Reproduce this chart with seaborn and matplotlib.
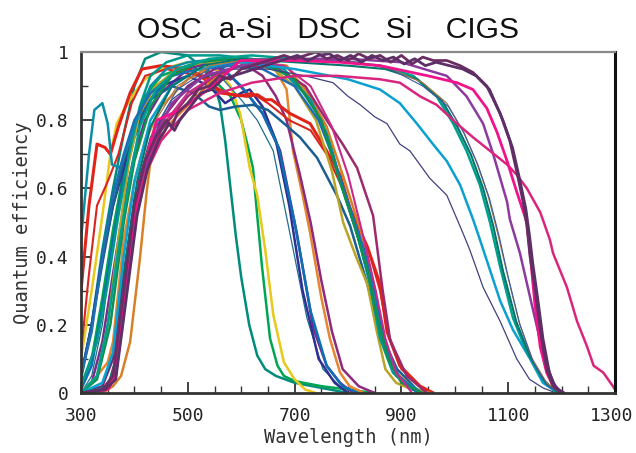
import matplotlib
matplotlib.use("Agg")
import matplotlib.pyplot as plt
import matplotlib.transforms as mtransforms
from matplotlib.ticker import MultipleLocator
import seaborn as sns
import pandas as pd

# ---------------- data: (wavelength nm, quantum efficiency) per curve ----------------
# Group A: OSC / a-Si type cells (cut-off 600-850 nm)
a_wl = [
    [300,320,340,360,380,400,420,450,500,530,550,560,570,580,590,600,615,630,645,665,700,750,800],
    [300,320,340,360,380,400,420,450,500,540,560,580,600,613,622,630,639,654,668,680,700,750,800,850],
    [300,320,340,355,367,380,400,420,450,500,540,560,580,598,616,630,645,660,680,700,720,740],
    [300,320,340,360,380,400,430,470,520,560,600,630,660,691,723,753,785,820],
    [300,320,340,360,380,400,420,450,500,540,580,610,640,673,704,735,760,785,810],
    [300,320,340,360,380,400,420,450,500,540,570,600,616,640,665,690,715,745,775,800],
    [300,320,340,360,380,400,430,470,520,560,600,640,670,700,730,760,790,820],
    [300,330,350,360,380,400,420,450,500,550,600,640,660,685,697,715,729,750,766,785,803,830],
    [300,340,360,380,400,420,450,500,550,600,640,665,685,710,730,750,770,790,820,850],
]
a_qe = [
    [0.04,0.2,0.42,0.6,0.76,0.9,0.98,1.0,0.99,0.95,0.9,0.85,0.74,0.6,0.46,0.34,0.2,0.11,0.07,0.05,0.03,0.015,0.0],
    [0.02,0.1,0.28,0.48,0.65,0.78,0.87,0.93,0.96,0.94,0.9,0.87,0.8,0.72,0.66,0.52,0.37,0.16,0.08,0.05,0.035,0.02,0.01,0.0],
    [0.1,0.3,0.52,0.7,0.79,0.83,0.88,0.92,0.95,0.97,0.96,0.94,0.9,0.82,0.66,0.58,0.42,0.23,0.09,0.04,0.01,0.0],
    [0.0,0.05,0.2,0.45,0.65,0.78,0.88,0.94,0.96,0.93,0.86,0.8,0.71,0.47,0.22,0.07,0.02,0.0],
    [0.0,0.03,0.15,0.35,0.55,0.7,0.8,0.88,0.95,0.97,0.93,0.88,0.82,0.71,0.47,0.19,0.08,0.03,0.0],
    [0.05,0.2,0.4,0.55,0.66,0.76,0.84,0.9,0.93,0.9,0.85,0.88,0.89,0.84,0.74,0.55,0.3,0.1,0.03,0.0],
    [0.01,0.08,0.25,0.45,0.62,0.75,0.86,0.93,0.97,0.96,0.9,0.82,0.72,0.5,0.24,0.08,0.02,0.0],
    [0.0,0.05,0.09,0.15,0.45,0.62,0.74,0.84,0.92,0.96,0.97,0.97,0.96,0.89,0.71,0.58,0.47,0.28,0.16,0.06,0.02,0.0],
    [0.0,0.02,0.1,0.35,0.55,0.68,0.8,0.9,0.95,0.97,0.93,0.87,0.8,0.64,0.5,0.33,0.18,0.07,0.02,0.0],
]
a_colors = ["#008b7d", "#00a651", "#e8c81a", "#1e6e8e", "#7a2a8c", "#2e3192", "#0a6fb5", "#e6862e", "#8e2a7e"]
a_widths = [1.8, 1.8, 1.8, 0.9, 1.8, 1.8, 1.8, 1.8, 1.8]

# Group B: DSC type cells (cut-off 850-960 nm)
b_wl = [
    [300,315,330,345,355,370,392,414,450,500,540,560,585,610,630,645,657,691,729,760,785,804,836,860,873,897,935,960],
    [300,315,330,350,370,395,420,460,520,560,590,620,650,690,730,760,790,810,840,860,875,900,940,960],
    [300,320,340,360,380,400,430,470,510,540,560,590,622,650,673,710,742,779,804,836,860,892,929,950],
    [300,330,350,370,390,410,440,480,530,600,660,700,740,770,791,815,836,854,870,890,920,950],
    [300,330,350,370,390,410,430,460,500,560,620,680,730,760,785,817,841,860,884,921,950],
    [300,340,360,375,392,410,423,430,461,485,517,547,579,620,685,729,760,790,825,848,867,890,925,955],
    [300,350,365,380,400,420,450,500,550,600,660,720,760,790,817,847,865,879,910,948],
    [300,315,325,340,350,358,373,400,430,460,500,560,620,680,730,760,790,820,845,865,890,930],
    [300,320,340,360,380,400,430,470,520,580,640,700,745,775,800,830,852,870,895,930],
    [300,330,355,380,400,430,470,520,580,640,700,750,785,810,835,855,875,900,940],
    [300,350,362,380,400,420,450,500,560,620,680,730,770,800,830,852,870,890,920],
]
b_qe = [
    [0.3,0.55,0.73,0.72,0.7,0.78,0.88,0.95,0.96,0.95,0.92,0.88,0.875,0.87,0.875,0.86,0.86,0.82,0.79,0.71,0.64,0.54,0.43,0.32,0.18,0.08,0.02,0.0],
    [0.12,0.35,0.55,0.62,0.7,0.85,0.93,0.95,0.93,0.89,0.87,0.88,0.85,0.8,0.77,0.7,0.6,0.52,0.41,0.3,0.17,0.07,0.01,0.0],
    [0.05,0.2,0.38,0.55,0.68,0.78,0.86,0.9,0.88,0.84,0.83,0.84,0.845,0.83,0.8,0.75,0.69,0.58,0.49,0.32,0.18,0.07,0.01,0.0],
    [0.0,0.05,0.2,0.45,0.68,0.82,0.9,0.95,0.97,0.97,0.95,0.9,0.8,0.65,0.5,0.4,0.32,0.18,0.07,0.03,0.01,0.0],
    [0.02,0.15,0.32,0.52,0.7,0.84,0.93,0.97,0.99,0.99,0.98,0.95,0.86,0.78,0.62,0.47,0.32,0.16,0.06,0.01,0.0],
    [0.0,0.0,0.02,0.05,0.15,0.39,0.59,0.68,0.78,0.82,0.87,0.92,0.95,0.97,0.96,0.87,0.78,0.64,0.47,0.32,0.16,0.06,0.01,0.0],
    [0.0,0.01,0.05,0.25,0.5,0.65,0.77,0.87,0.93,0.96,0.96,0.9,0.8,0.73,0.66,0.52,0.3,0.155,0.05,0.0],
    [0.45,0.7,0.83,0.85,0.79,0.67,0.66,0.78,0.9,0.95,0.97,0.98,0.97,0.94,0.86,0.76,0.6,0.45,0.3,0.15,0.05,0.01],
    [0.05,0.18,0.4,0.58,0.7,0.8,0.88,0.93,0.95,0.96,0.95,0.9,0.8,0.68,0.56,0.42,0.28,0.14,0.05,0.0],
    [0.0,0.04,0.2,0.5,0.68,0.84,0.93,0.97,0.98,0.97,0.92,0.8,0.62,0.5,0.37,0.22,0.1,0.03,0.0],
    [0.0,0.02,0.05,0.28,0.52,0.66,0.78,0.88,0.94,0.97,0.96,0.9,0.78,0.64,0.45,0.3,0.16,0.06,0.0],
]
b_colors = ["#e2231a", "#d9241f", "#1b5e91", "#b9a428", "#009b8c", "#d98026",
            "#9b2b6c", "#0b8ea6", "#1f6db5", "#0e9150", "#c92a8a"]
b_widths = [2.2, 1.5, 1.8, 1.8, 1.8, 1.8, 1.8, 1.8, 1.8, 1.8, 1.5]

# Group C: Si / CIGS cells (cut-off 1150-1300 nm)
c_wl = [
    [300,340,360,380,400,430,470,520,580,650,720,772,800,823,850,873,897,916,953,985,1015,1028,1053,1085,1116,1140,1165,1190],
    [300,340,360,380,400,430,470,520,600,700,800,860,897,929,959,985,1010,1034,1047,1066,1085,1109,1141,1165,1184,1200],
    [300,330,350,370,390,410,440,480,540,620,700,800,860,922,966,997,1022,1047,1066,1085,1109,1135,1165,1191],
    [300,350,365,385,405,430,470,530,600,700,800,870,930,975,1005,1030,1053,1072,1090,1115,1140,1170,1195],
    [300,355,370,390,410,440,480,540,620,720,820,880,940,985,1015,1040,1062,1080,1098,1120,1145,1172,1198],
    [300,350,368,388,410,440,480,540,620,720,820,880,940,988,1018,1043,1065,1083,1100,1122,1147,1174,1200],
    [300,350,365,385,405,430,470,530,600,700,800,900,985,1022,1053,1072,1098,1103,1122,1147,1165,1184,1200],
    [300,340,360,380,400,420,450,500,560,620,700,780,860,897,935,966,1004,1034,1066,1098,1116,1135,1160,1178,1184,1210,1229,1248,1260,1278,1296,1300],
    [300,350,365,385,410,442,485,547,598,700,785,860,950,1004,1034,1060,1079,1098,1116,1135,1141,1150,1160,1172,1184,1200],
    [300,340,360,380,400,420,440,460,470,480,500,520,540,560,580,600,640,680,700,720,740,760,780,800,820,840,860,880,900,920,940,960,985,1010,1034,1060,1085,1103,1116,1128,1135,1141,1150,1160,1172,1184,1200],
    [300,345,365,385,405,425,445,465,475,485,505,525,545,565,585,605,645,685,705,725,745,765,785,805,825,845,865,885,905,925,945,965,990,1015,1040,1065,1090,1108,1121,1133,1140,1146,1155,1165,1177,1189,1205],
]
c_qe = [
    [0.0,0.02,0.1,0.35,0.58,0.75,0.86,0.92,0.95,0.95,0.93,0.91,0.87,0.845,0.81,0.79,0.73,0.71,0.63,0.58,0.47,0.42,0.31,0.21,0.1,0.04,0.015,0.0],
    [0.0,0.03,0.12,0.4,0.62,0.8,0.9,0.95,0.97,0.95,0.92,0.89,0.85,0.79,0.73,0.68,0.61,0.51,0.45,0.36,0.27,0.185,0.1,0.03,0.01,0.0],
    [0.0,0.05,0.2,0.42,0.62,0.78,0.89,0.95,0.98,0.99,0.98,0.97,0.96,0.93,0.87,0.79,0.71,0.61,0.5,0.37,0.22,0.12,0.04,0.0],
    [0.0,0.02,0.1,0.4,0.62,0.78,0.9,0.96,0.98,0.97,0.96,0.95,0.92,0.86,0.78,0.7,0.6,0.49,0.36,0.21,0.11,0.03,0.0],
    [0.0,0.02,0.1,0.4,0.62,0.8,0.9,0.96,0.98,0.98,0.97,0.95,0.91,0.85,0.77,0.68,0.58,0.47,0.35,0.21,0.1,0.03,0.0],
    [0.0,0.02,0.1,0.38,0.6,0.78,0.89,0.95,0.98,0.98,0.97,0.95,0.9,0.84,0.76,0.67,0.57,0.46,0.34,0.2,0.09,0.02,0.0],
    [0.0,0.01,0.05,0.3,0.55,0.72,0.85,0.93,0.96,0.98,0.98,0.97,0.93,0.87,0.79,0.7,0.56,0.51,0.41,0.24,0.12,0.03,0.0],
    [0.0,0.01,0.05,0.3,0.52,0.64,0.74,0.83,0.88,0.91,0.93,0.93,0.92,0.91,0.87,0.845,0.79,0.75,0.71,0.67,0.64,0.6,0.53,0.45,0.41,0.31,0.21,0.135,0.08,0.06,0.02,0.01],
    [0.0,0.01,0.05,0.35,0.62,0.8,0.83,0.9,0.975,0.975,0.97,0.96,0.93,0.91,0.89,0.835,0.765,0.68,0.59,0.5,0.41,0.26,0.135,0.06,0.02,0.0],
    [0.0,0.01,0.05,0.3,0.55,0.68,0.75,0.8,0.78,0.82,0.85,0.89,0.9,0.93,0.92,0.95,0.97,0.99,0.98,0.99,1.0,0.98,0.99,0.975,0.995,0.98,0.99,0.97,0.99,0.965,0.985,0.975,0.975,0.96,0.94,0.9,0.82,0.74,0.65,0.56,0.49,0.4,0.31,0.185,0.07,0.02,0.0],
    [0.0,0.01,0.04,0.28,0.52,0.66,0.74,0.79,0.77,0.8,0.84,0.88,0.89,0.92,0.93,0.94,0.96,0.98,0.99,0.975,0.99,0.995,0.975,0.99,0.97,0.99,0.975,0.985,0.965,0.98,0.96,0.97,0.96,0.95,0.93,0.89,0.8,0.72,0.63,0.54,0.46,0.38,0.28,0.16,0.06,0.015,0.0],
]
c_colors = ["#40407e", "#0aa0cf", "#00a08e", "#00756a", "#a87a48", "#3a5aa8",
            "#8d3a9f", "#d8267f", "#f0138a", "#6b2e62", "#5c2f66"]
c_widths = [0.9, 1.8, 1.8, 1.5, 0.9, 0.8, 1.8, 1.8, 2.0, 2.0, 2.0]

title_text = "OSC  a-Si   DSC   Si    CIGS"
x_label = "Wavelength (nm)"
y_label = "Quantum efficiency"
x_ticks = [300, 500, 700, 900, 1100, 1300]
y_ticks = [0, 0.2, 0.4, 0.6, 0.8, 1]
y_tick_labels = ["0", "0.2", "0.4", "0.6", "0.8", "1"]

# ---------------- plotting ----------------
sns.set_theme(style="white")
plt.rcParams["font.family"] = ["DejaVu Sans"]

fig = plt.figure(figsize=(6.36, 4.53), dpi=100)
ax = fig.add_axes([81 / 636, 1 - 393 / 453, (615 - 81) / 636, (393 - 52) / 453])

groups = [(a_wl, a_qe, a_colors, a_widths),
          (b_wl, b_qe, b_colors, b_widths),
          (c_wl, c_qe, c_colors, c_widths)]
for wls, qes, cols, wids in groups:
    for wl, qe, col, lw in zip(wls, qes, cols, wids):
        df = pd.DataFrame({"wl": wl, "qe": qe})
        sns.lineplot(data=df, x="wl", y="qe", color=col, linewidth=lw,
                     sort=False, estimator=None, ax=ax, legend=False)

ax.set_xlim(300, 1300)
ax.set_ylim(0, 1)
ax.set_xticks(x_ticks)
ax.set_yticks(y_ticks)
ax.set_yticklabels(y_tick_labels)
ax.xaxis.set_minor_locator(MultipleLocator(50))
ax.yaxis.set_minor_locator(MultipleLocator(0.1))
ax.tick_params(axis="both", which="major", direction="in", length=8, width=1.3,
               color="#333333", labelsize=13, bottom=True, left=True)
ax.tick_params(axis="x", which="major", pad=10)
ax.tick_params(axis="y", which="major", pad=9)
ax.tick_params(axis="both", which="minor", direction="in", length=5, width=1.0,
               color="#333333", bottom=True, left=True)
for lab in ax.get_xticklabels() + ax.get_yticklabels():
    lab.set_fontfamily("DejaVu Sans Mono")
    lab.set_color("#222222")

ax.set_xlabel(x_label, fontfamily="DejaVu Sans Mono", fontsize=13.5, color="#333333", labelpad=2)
ax.set_ylabel(y_label, fontfamily="DejaVu Sans Mono", fontsize=13.5, color="#333333", labelpad=3)

for side in ["left", "bottom"]:
    ax.spines[side].set_color("#333333")
    ax.spines[side].set_linewidth(2.0)
ax.spines["right"].set_color("#111111")
ax.spines["right"].set_linewidth(2.2)
ax.spines["top"].set_color("#888888")
ax.spines["top"].set_linewidth(1.6)
for s in ax.spines.values():
    s.set_visible(True)
    s.set_zorder(5)

fig.text(328 / 636, 1 - 38.5 / 453, title_text, ha="center", va="baseline",
         fontsize=21.6, fontfamily="Liberation Sans", color="#111111")

# nudge the last x tick label slightly left so it stays inside the canvas
fig.canvas.draw()
last = ax.xaxis.get_major_ticks()[-1].label1
last.set_transform(last.get_transform() + mtransforms.ScaledTranslation(-3 / 100, 0, fig.dpi_scale_trans))

fig.savefig("out.png", dpi=100)
